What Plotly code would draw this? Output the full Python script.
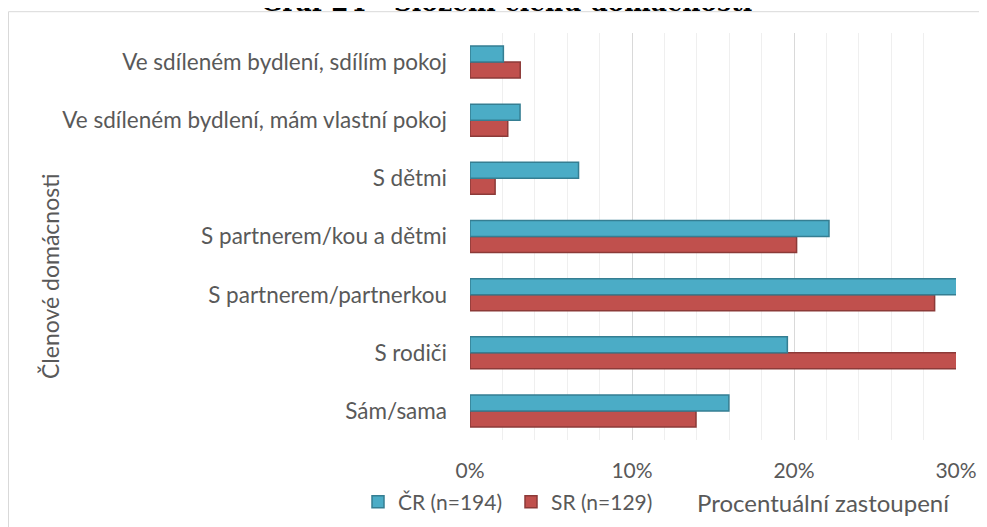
import plotly.graph_objects as go

categories = ["Sám/sama", "S rodiči", "S partnerem/partnerkou", "S partnerem/kou a dětmi",
              "S dětmi", "Ve sdíleném bydlení, mám vlastní pokoj", "Ve sdíleném bydlení, sdílím pokoj"]
cr_values = [15.98, 19.59, 30.41, 22.16, 6.70, 3.09, 2.06]
sr_values = [13.95, 30.23, 28.68, 20.16, 1.55, 2.33, 3.10]
x_ticks = [0, 10, 20, 30]

# the page adds an 8px body margin; positions below are in page pixels
OFF = 8
W, H = 987, 527
PL, PR, PT, PB = 470, 956, 33, 440   # plot area in page pixels
L, R, T, B = PL - OFF, W - (PR - OFF), PT - OFF, H - (PB - OFF)
pw, ph = W - L - R, H - T - B

def px2x(px):
    return (px - OFF - L) / pw

def py2y(py):
    return (H - B - (py - OFF)) / ph

font = "Lato, Open Sans, sans-serif"
grey = "#595959"

fig = go.Figure()
fig.add_trace(go.Bar(
    y=categories, x=sr_values, orientation="h", name="SR (n=129)",
    marker=dict(color="#C0504D", line=dict(color="#8C3A38", width=1.5)), legendrank=2))
fig.add_trace(go.Bar(
    y=categories, x=cr_values, orientation="h", name="ČR (n=194)",
    marker=dict(color="#4BACC6", line=dict(color="#357E92", width=1.5)), legendrank=1))

fig.update_layout(
    width=W, height=H,
    margin=dict(l=L, r=R, t=T, b=B, autoexpand=False),
    paper_bgcolor="white", plot_bgcolor="white",
    barmode="group", bargap=0.45, bargroupgap=0,
    font=dict(family=font, size=21, color=grey),
    showlegend=True,
    legend=dict(orientation="h", x=px2x(358), y=py2y(502), xanchor="left", yanchor="middle",
                font=dict(size=21, color=grey), itemwidth=30, entrywidth=108,
                entrywidthmode="pixels", bgcolor="rgba(0,0,0,0)"),
    xaxis=dict(range=[0, 30], tickvals=x_ticks, ticktext=[f"{v}%" for v in x_ticks],
               showgrid=True, gridcolor="#D9D9D9", gridwidth=1.3, zeroline=False,
               showline=False, ticks="", ticklabelstandoff=16, automargin=False,
               minor=dict(dtick=2, showgrid=True, gridcolor="#EFEFEF", gridwidth=1),
               tickfont=dict(size=21, color=grey)),
    yaxis=dict(showgrid=False, zeroline=False, showline=False, ticks="", automargin=False,
               ticklabelstandoff=22, tickfont=dict(size=22.5, color=grey)),
    shapes=[dict(type="rect", xref="paper", yref="paper",
                 x0=px2x(8.5), x1=px2x(1000), y0=py2y(540), y1=py2y(11.7),
                 line=dict(color="#D9D9D9", width=1), fillcolor="rgba(0,0,0,0)", layer="below")],
    annotations=[
        dict(text="<b>Graf 24 - Složení členů domácnosti</b>", xref="paper", yref="paper",
             x=px2x(506), y=py2y(19), xanchor="center", yanchor="bottom", showarrow=False,
             font=dict(family="DejaVu Serif, serif", size=25, color="black")),
        dict(text="Procentuální zastoupení", xref="paper", yref="paper",
             x=px2x(823), y=py2y(502), xanchor="center", yanchor="middle", showarrow=False,
             font=dict(family=font, size=24, color=grey)),
        dict(text="Členové domácnosti", xref="paper", yref="paper", textangle=-90,
             x=px2x(50), y=py2y(277), xanchor="center", yanchor="middle", showarrow=False,
             font=dict(family=font, size=23, color=grey)),
    ],
)

fig.write_html("out.html")
